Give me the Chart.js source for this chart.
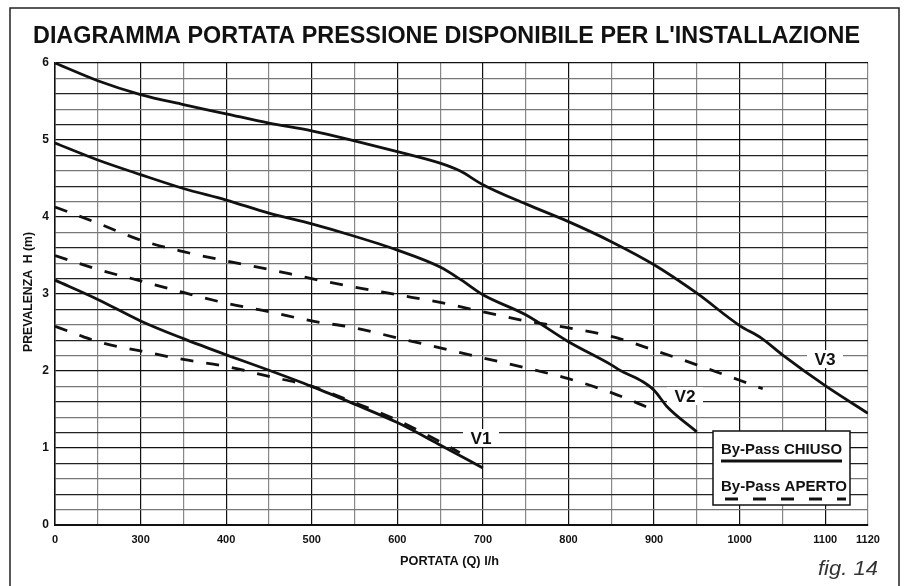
<!DOCTYPE html>
<html>
<head>
<meta charset="utf-8">
<script src="https://cdn.jsdelivr.net/npm/chart.js@4.4.0/dist/chart.umd.min.js"></script>
<style>
  body { margin: 0; background: #fff; }
  canvas { display: block; }
</style>
</head>
<body>
<canvas id="grafico" width="904" height="586"></canvas>
<script>
// x values are axis positions: the first column is drawn as "0", the last as "1120"
const xTickLabels = { 200: "0", 300: "300", 400: "400", 500: "500", 600: "600", 700: "700",
  800: "800", 900: "900", 1000: "1000", 1100: "1100", 1150: "1120" };
const yTickLabels = [0, 1, 2, 3, 4, 5, 6];

// By-Pass CHIUSO (solid)
const v3ChiusoX = [200, 250, 300, 350, 400, 450, 500, 550, 600, 650, 673, 700, 750, 800, 850, 900, 950, 1000, 1025, 1050, 1100, 1150];
const v3ChiusoY = [6.00, 5.77, 5.59, 5.46, 5.34, 5.22, 5.12, 4.99, 4.85, 4.70, 4.60, 4.42, 4.17, 3.94, 3.68, 3.38, 3.01, 2.59, 2.43, 2.21, 1.81, 1.45];
const v2ChiusoX = [200, 250, 300, 350, 400, 450, 500, 550, 600, 650, 675, 700, 750, 800, 850, 860, 887, 900, 915, 950];
const v2ChiusoY = [4.96, 4.74, 4.55, 4.37, 4.22, 4.05, 3.91, 3.75, 3.57, 3.35, 3.18, 2.99, 2.73, 2.38, 2.08, 2.01, 1.86, 1.75, 1.54, 1.21];
const v1ChiusoX = [200, 250, 300, 350, 400, 450, 500, 550, 600, 650, 700];
const v1ChiusoY = [3.18, 2.93, 2.65, 2.42, 2.21, 2.01, 1.80, 1.57, 1.33, 1.04, 0.74];

// By-Pass APERTO (dashed)
const v3ApertoX = [200, 250, 300, 350, 400, 450, 500, 550, 600, 650, 700, 750, 800, 850, 900, 950, 1000, 1027];
const v3ApertoY = [4.13, 3.92, 3.70, 3.55, 3.43, 3.32, 3.20, 3.09, 2.99, 2.89, 2.77, 2.65, 2.56, 2.45, 2.27, 2.08, 1.88, 1.77];
const v2ApertoX = [200, 250, 300, 350, 400, 450, 500, 550, 600, 650, 700, 750, 800, 850, 875, 900];
const v2ApertoY = [3.50, 3.32, 3.17, 3.02, 2.88, 2.77, 2.65, 2.56, 2.43, 2.30, 2.17, 2.04, 1.90, 1.72, 1.61, 1.49];
const v1ApertoX = [200, 215, 232, 250, 300, 350, 400, 450, 500, 550, 600, 650, 673];
const v1ApertoY = [2.58, 2.52, 2.45, 2.38, 2.26, 2.15, 2.06, 1.93, 1.80, 1.59, 1.36, 1.08, 0.94];

const curveLabels = ["V1", "V2", "V3"];

function pts(xs, ys) {
  return xs.map((x, i) => ({ x: x, y: ys[i] }));
}

function serie(label, xs, ys, dashed) {
  return {
    label: label,
    data: pts(xs, ys),
    borderColor: "#111",
    borderWidth: 2.8,
    borderDash: dashed ? [13, 13] : [],
    pointRadius: 0,
    cubicInterpolationMode: "monotone",
    fill: false
  };
}

// draws text squeezed/stretched to a given width
function fitText(ctx, text, x, y, w, font, color) {
  ctx.save();
  ctx.font = font;
  ctx.fillStyle = color || "#111";
  ctx.textAlign = "left";
  ctx.textBaseline = "alphabetic";
  const nat = ctx.measureText(text).width;
  ctx.translate(x, y);
  ctx.scale(w / nat, 1);
  ctx.fillText(text, 0, 0);
  ctx.restore();
}

const decorations = {
  id: "decorations",
  afterDatasetsDraw(chart) {
    const ctx = chart.ctx;
    const xs = chart.scales.x, ys = chart.scales.y;
    ctx.save();
    // curve labels with white boxes
    const boxes = [
      { t: curveLabels[0], x: 481, y: 438 },
      { t: curveLabels[1], x: 685, y: 396 },
      { t: curveLabels[2], x: 825, y: 359 }
    ];
    boxes.forEach(b => {
      ctx.fillStyle = "#fff";
      ctx.fillRect(b.x - 18, b.y - 9, 36, 18);
      fitText(ctx, b.t, b.x - 10.5, b.y + 6, 21, "bold 16px 'Liberation Sans', Arial, sans-serif");
    });
    // legend box
    ctx.fillStyle = "#fff";
    ctx.fillRect(713, 431, 137, 74);
    ctx.strokeStyle = "#111";
    ctx.lineWidth = 1.5;
    ctx.strokeRect(713, 431, 137, 74);
    fitText(ctx, "By-Pass CHIUSO", 721, 454, 121, "bold 15px 'Liberation Sans', Arial, sans-serif");
    fitText(ctx, "By-Pass APERTO", 721, 491, 126, "bold 15px 'Liberation Sans', Arial, sans-serif");
    ctx.lineWidth = 2.8;
    ctx.beginPath();
    ctx.moveTo(721, 461);
    ctx.lineTo(842, 461);
    ctx.stroke();
    ctx.setLineDash([13, 15]);
    ctx.beginPath();
    ctx.moveTo(725, 499);
    ctx.lineTo(846, 499);
    ctx.stroke();
    ctx.restore();
  },
  afterDraw(chart) {
    const ctx = chart.ctx;
    ctx.save();
    // outer frame
    ctx.strokeStyle = "#222";
    ctx.lineWidth = 1.5;
    ctx.beginPath();
    ctx.moveTo(10, 586);
    ctx.lineTo(10, 8);
    ctx.lineTo(899, 8);
    ctx.lineTo(899, 586);
    ctx.stroke();
    // title
    fitText(ctx, "DIAGRAMMA PORTATA PRESSIONE DISPONIBILE PER L'INSTALLAZIONE", 33, 43, 827,
      "bold 23px 'Liberation Sans', Arial, sans-serif");
    // axis titles
    fitText(ctx, "PORTATA (Q) l/h", 400, 565, 99, "bold 12.5px 'Liberation Sans', Arial, sans-serif");
    ctx.save();
    ctx.translate(32, 352);
    ctx.rotate(-Math.PI / 2);
    fitText(ctx, "PREVALENZA  H (m)", 0, 0, 120, "bold 12.5px 'Liberation Sans', Arial, sans-serif");
    ctx.restore();
    fitText(ctx, "fig. 14", 818, 575, 60, "italic 20px 'Liberation Sans', Arial, sans-serif", "#333");
    ctx.restore();
  }
};

const gridColor = (c) => (c.index % 2 === 0 ? "#111" : "#888");

const config = {
  type: "line",
  data: {
    datasets: [
      serie("V3 chiuso", v3ChiusoX, v3ChiusoY, false),
      serie("V2 chiuso", v2ChiusoX, v2ChiusoY, false),
      serie("V1 chiuso", v1ChiusoX, v1ChiusoY, false),
      serie("V3 aperto", v3ApertoX, v3ApertoY, true),
      serie("V2 aperto", v2ApertoX, v2ApertoY, true),
      serie("V1 aperto", v1ApertoX, v1ApertoY, true)
    ]
  },
  options: {
    responsive: false,
    animation: false,
    layout: { padding: { left: 0, top: 63, right: 36, bottom: 0 } },
    plugins: { legend: { display: false }, tooltip: { enabled: false }, title: { display: false } },
    scales: {
      x: {
        type: "linear",
        min: 200,
        max: 1150,
        afterFit: (s) => { s.height = 61; },
        afterBuildTicks: (s) => {
          const t = [];
          for (let v = 200; v <= 1150; v += 50) t.push({ value: v });
          s.ticks = t;
        },
        ticks: {
          autoSkip: false,
          maxRotation: 0,
          padding: 8,
          color: "#111",
          font: { family: "'Liberation Sans', Arial, sans-serif", size: 11, weight: "bold" },
          callback: (v) => (xTickLabels[v] !== undefined ? xTickLabels[v] : "")
        },
        grid: { color: gridColor, lineWidth: 1.2, drawTicks: false },
        border: { color: "#111", width: 2 }
      },
      y: {
        min: 0,
        max: 6,
        afterFit: (s) => { s.width = 55; },
        afterBuildTicks: (s) => {
          const t = [];
          for (let i = 0; i <= 30; i++) t.push({ value: Math.round(i * 2) / 10 });
          s.ticks = t;
        },
        ticks: {
          autoSkip: false,
          padding: 6,
          color: "#111",
          font: { family: "'Liberation Sans', Arial, sans-serif", size: 12, weight: "bold" },
          callback: (v) => (yTickLabels.includes(v) ? String(v) : "")
        },
        grid: { color: (c) => (c.index % 5 === 0 ? "#111" : (c.index % 2 === 0 ? "#222" : "#777")), lineWidth: 1.2, drawTicks: false },
        border: { color: "#111", width: 1.5 }
      }
    }
  },
  plugins: [decorations]
};

new Chart(document.getElementById("grafico"), config);
</script>
</body>
</html>
